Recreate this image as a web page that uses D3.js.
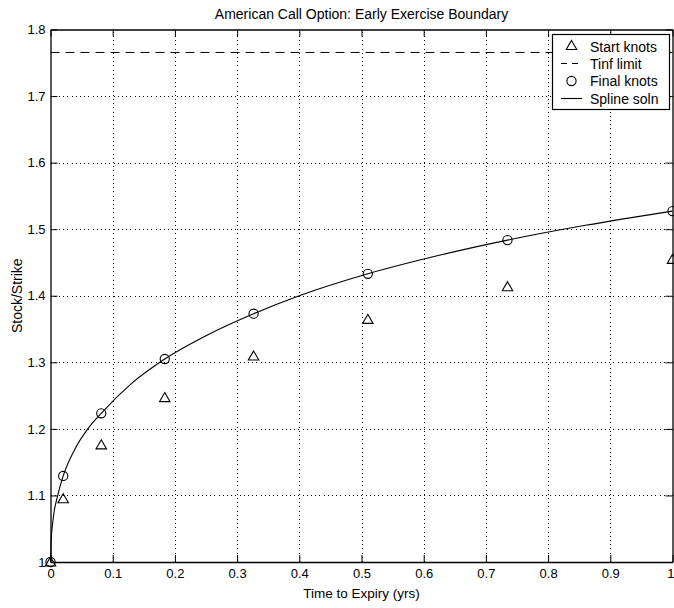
<!DOCTYPE html>
<html>
<head>
<meta charset="utf-8">
<script src="https://cdn.jsdelivr.net/npm/d3@7"></script>
<style>
  html, body { margin: 0; padding: 0; background: #fff; }
  text { font-family: "Liberation Sans", Arial, Helvetica, sans-serif; fill: #000; }
</style>
</head>
<body>
<svg id="chart" width="674" height="608"></svg>
<script>
// ---- data ----
const startT = [0, 0.0204, 0.0816, 0.1837, 0.3265, 0.5102, 0.7347, 1.0];
const startV = [1.0, 1.095, 1.176, 1.247, 1.3095, 1.3646, 1.4135, 1.4547];
const finalT = [0, 0.0204, 0.0816, 0.1837, 0.3265, 0.5102, 0.7347, 1.0];
const finalV = [1.0, 1.1293, 1.2234, 1.305, 1.373, 1.433, 1.4836, 1.5272];
const splineT = [0, 0.001, 0.003, 0.006, 0.01, 0.0204, 0.04, 0.06, 0.0816, 0.13, 0.1837, 0.25, 0.3265, 0.4, 0.5102, 0.62, 0.7347, 0.86, 1.0];
const splineV = [1.0, 1.031, 1.054, 1.077, 1.094, 1.1293, 1.171, 1.200, 1.2234, 1.268, 1.305, 1.340, 1.373, 1.400, 1.433, 1.4597, 1.4836, 1.5058, 1.5272];
const tinfV = 1.7655;
const xTicks = [0, 0.1, 0.2, 0.3, 0.4, 0.5, 0.6, 0.7, 0.8, 0.9, 1];
const yTicks = [1, 1.1, 1.2, 1.3, 1.4, 1.5, 1.6, 1.7, 1.8];
const legendLabels = ["Start knots", "Tinf limit", "Final knots", "Spline soln"];
const titleText = "American Call Option: Early Exercise Boundary";
const xLabel = "Time to Expiry (yrs)";
const yLabel = "Stock/Strike";

// ---- layout ----
const svg = d3.select("#chart");
const L = 50.5, R = 672.5, T = 29.5, B = 562;
const x = d3.scaleLinear().domain([0, 1]).range([L, R]);
const y = d3.scaleLinear().domain([1, 1.8]).range([B, T]);
const fmt = d => (d === 0 || d === 1) ? String(d) : d.toFixed(1);

// grid
const grid = svg.append("g").attr("stroke", "#000").attr("stroke-width", 1)
  .attr("stroke-dasharray", "1,3.2").attr("shape-rendering", "crispEdges");
grid.selectAll("line.vx").data(xTicks.slice(1, -1)).join("line")
  .attr("x1", d => Math.round(x(d)) + 0.5).attr("x2", d => Math.round(x(d)) + 0.5)
  .attr("y1", B).attr("y2", T);
grid.selectAll("line.hy").data(yTicks.slice(1, -1)).join("line")
  .attr("class", "hy")
  .attr("y1", d => Math.round(y(d)) + 0.5).attr("y2", d => Math.round(y(d)) + 0.5)
  .attr("x1", L).attr("x2", R);

// axes (MATLAB style: ticks inward on all four sides)
const tl = 7;
const xb = svg.append("g").attr("transform", `translate(0,${B})`)
  .call(d3.axisBottom(x).tickValues(xTicks).tickSizeInner(-tl).tickSizeOuter(0).tickPadding(7).tickFormat(fmt));
const xt = svg.append("g").attr("transform", `translate(0,${T})`)
  .call(d3.axisTop(x).tickValues(xTicks).tickSizeInner(-tl).tickSizeOuter(0).tickFormat(""));
const yl = svg.append("g").attr("transform", `translate(${L},0)`)
  .call(d3.axisLeft(y).tickValues(yTicks).tickSizeInner(-tl).tickSizeOuter(0).tickPadding(5).tickFormat(fmt));
const yr = svg.append("g").attr("transform", `translate(${R},0)`)
  .call(d3.axisRight(y).tickValues(yTicks).tickSizeInner(-tl).tickSizeOuter(0).tickFormat(""));
[xb, xt, yl, yr].forEach(g => {
  g.select(".domain").attr("stroke", "#000").attr("stroke-width", 1.3);
  g.selectAll(".tick line").attr("stroke", "#000").attr("stroke-width", 1);
  g.selectAll(".tick text").attr("font-size", 13).attr("font-family", "Liberation Sans, Arial, sans-serif").attr("fill", "#000");
});
// keep the last x label inside the picture
xb.selectAll(".tick").filter(d => d === 1).select("text").attr("text-anchor", "end").attr("x", 1.5);

// Tinf limit dashed line
svg.append("line").attr("x1", L).attr("x2", R).attr("y1", y(tinfV)).attr("y2", y(tinfV))
  .attr("stroke", "#000").attr("stroke-width", 1).attr("stroke-dasharray", "9,6");

// spline
const splineData = splineT.map((t, i) => [t, splineV[i]]);
svg.append("path").datum(splineData)
  .attr("d", d3.line().x(d => x(d[0])).y(d => y(d[1])).curve(d3.curveMonotoneX))
  .attr("fill", "none").attr("stroke", "#000").attr("stroke-width", 1.1);

// markers
const tri = d3.symbol().type(d3.symbolTriangle).size(48);
svg.append("g").selectAll("path").data(startT.map((t, i) => [t, startV[i]])).join("path")
  .attr("d", tri).attr("transform", d => `translate(${x(d[0])},${y(d[1]) + 1})`)
  .attr("fill", "none").attr("stroke", "#000").attr("stroke-width", 1.1);
svg.append("g").selectAll("circle").data(finalT.map((t, i) => [t, finalV[i]])).join("circle")
  .attr("cx", d => x(d[0])).attr("cy", d => y(d[1])).attr("r", 4.6)
  .attr("fill", "none").attr("stroke", "#000").attr("stroke-width", 1.1);

// legend
const lg = svg.append("g");
const lx = 552.5, ly = 34.5, lw = 117, lh = 75;
lg.append("rect").attr("x", lx).attr("y", ly).attr("width", lw).attr("height", lh)
  .attr("fill", "#fff").attr("stroke", "#000").attr("stroke-width", 1.2);
const rowY = [46.5, 63.5, 81, 98.5];
const mx = 571.5;
lg.append("path").attr("d", tri).attr("transform", `translate(${mx},${rowY[0]})`)
  .attr("fill", "none").attr("stroke", "#000").attr("stroke-width", 1.1);
lg.append("line").attr("x1", 561).attr("x2", 582).attr("y1", rowY[1]).attr("y2", rowY[1])
  .attr("stroke", "#000").attr("stroke-dasharray", "6,5");
lg.append("circle").attr("cx", mx).attr("cy", rowY[2]).attr("r", 4.6)
  .attr("fill", "none").attr("stroke", "#000").attr("stroke-width", 1.1);
lg.append("line").attr("x1", 561).attr("x2", 582).attr("y1", rowY[3]).attr("y2", rowY[3])
  .attr("stroke", "#000").attr("stroke-width", 1.1);
lg.selectAll("text").data(legendLabels).join("text")
  .attr("x", 590).attr("y", (d, i) => rowY[i]).attr("dy", "0.36em")
  .attr("font-size", 14).text(d => d);

// titles
svg.append("text").attr("x", (L + R) / 2).attr("y", 19).attr("text-anchor", "middle")
  .attr("font-size", 14).text(titleText);
svg.append("text").attr("x", (L + R) / 2).attr("y", 598).attr("text-anchor", "middle")
  .attr("font-size", 13.5).text(xLabel);
svg.append("text").attr("transform", `translate(22,${(T + B) / 2}) rotate(-90)`)
  .attr("text-anchor", "middle").attr("font-size", 14).text(yLabel);
</script>
</body>
</html>
